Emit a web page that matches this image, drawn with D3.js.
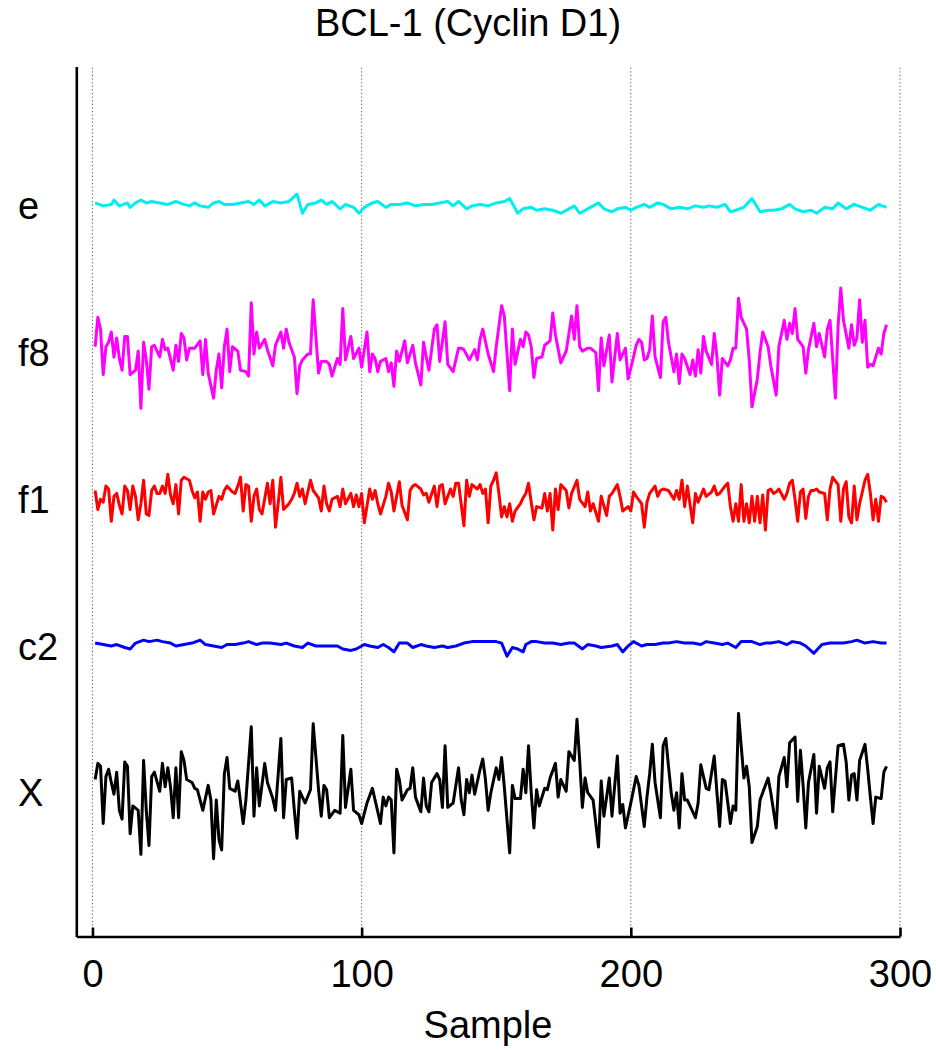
<!DOCTYPE html>
<html>
<head>
<meta charset="utf-8">
<script src="https://cdn.jsdelivr.net/npm/d3@7"></script>
<style>
  body { margin: 0; background: #fff; }
  text { font-family: "Liberation Sans", Arial, sans-serif; }
</style>
</head>
<body>
<svg id="chart" width="936" height="1050"></svg>
<script>
const title = "BCL-1 (Cyclin D1)";
const xLabel = "Sample";
// rows, bottom to top (row value 1..5)
const categories = ["X", "c2", "f1", "f8", "e"];
const xTicks = [0, 100, 200, 300];

// [sample, deviation from the row in hundredths of a row]
const seriesE = [[1,0],[4,-2],[7,-1],[8,2],[10,-2],[13,0],[14,-3],[16,0],[18,2],[20,0],[22,1],[25,0],[28,-1],[31,1],[34,-1],[36,-2],[38,0],[40,-2],[43,-3],[45,0],[47,1],[49,-1],[52,-1],[55,0],[58,1],[60,-1],[62,2],[64,-2],[67,1],[70,0],[73,1],[76,6],[78,-7],[80,-1],[83,0],[85,2],[87,-1],[89,1],[92,-4],[94,-1],[97,-3],[99,-7],[101,-3],[104,0],[106,1],[109,-3],[111,-1],[114,-1],[117,0],[120,-2],[123,-1],[126,-1],[129,0],[132,1],[134,-2],[136,1],[139,-4],[141,-2],[144,-1],[147,-2],[150,0],[153,1],[155,3],[158,-7],[160,-4],[163,-3],[165,-5],[168,-4],[171,-5],[174,-7],[177,-4],[179,-2],[181,-7],[183,-5],[185,-3],[188,0],[190,-4],[193,-6],[195,-4],[198,-3],[200,-5],[202,-3],[205,-1],[207,-3],[210,0],[212,-1],[215,-4],[218,-3],[221,-4],[224,-2],[227,-3],[229,-2],[232,-3],[235,-1],[237,-6],[239,-5],[242,-3],[245,3],[248,-6],[251,-5],[253,-5],[256,-4],[259,-1],[261,-4],[264,-6],[267,-5],[269,-7],[272,-3],[275,-4],[277,0],[280,-4],[283,-1],[286,-3],[289,-5],[292,-1],[295,-3]];

const seriesF8 = [[1,2],[2,22],[3,14],[4,-17],[5,2],[6,5],[7,12],[8,-5],[9,8],[10,-6],[11,-14],[12,9],[13,9],[14,-17],[16,-14],[17,-1],[18,-40],[19,5],[20,-7],[21,-27],[22,2],[23,3],[25,-5],[26,7],[27,0],[28,1],[30,-14],[31,3],[32,-8],[33,11],[34,8],[35,-7],[36,1],[38,1],[40,6],[41,-17],[42,7],[43,-16],[45,-33],[46,-14],[47,-3],[48,-26],[49,2],[50,14],[51,-15],[52,2],[54,-1],[55,-14],[57,-15],[58,-18],[59,32],[60,-3],[61,12],[62,1],[64,7],[65,0],[67,-11],[68,3],[70,12],[71,1],[72,14],[73,5],[75,-5],[76,-30],[77,-11],[78,-7],[80,-3],[81,-3],[82,34],[84,-16],[85,-8],[87,-8],[88,-10],[89,-18],[91,-6],[92,-10],[93,28],[94,-7],[96,9],[97,-6],[99,1],[100,-12],
  [102,12],[103,-15],[104,-3],[105,-6],[106,-15],[107,-8],[109,-6],[110,-15],[111,-9],[112,-25],[113,-1],[114,-8],[116,6],[117,-9],[119,3],[120,-9],[122,-24],[123,5],[124,-5],[125,-14],[127,14],[128,17],[129,-8],[131,19],[132,-10],[134,-15],[136,1],[137,1],[138,0],[140,-7],[142,0],[143,-7],[144,7],[145,14],[147,-3],[149,-15],[150,2],[152,30],[153,23],[155,-28],[156,14],[157,-10],[159,7],[160,2],[161,12],[162,10],[163,2],[164,-19],[165,-6],[167,-5],[168,3],[170,6],[171,25],[172,10],[174,-9],[175,-5],[176,-1],[178,23],[179,7],[180,30],[181,2],[182,-1],[184,1],[185,1],[187,-2],[188,-28],[189,8],[190,-11],[192,10],[193,-22],[195,11],[196,-7],[198,1],[199,-20],[201,-5],[202,3],
  [203,7],[204,5],[205,-7],[206,-6],[207,0],[208,23],[209,-5],[211,-19],[212,19],[213,22],[214,5],[216,-15],[217,-3],[218,-23],[219,-3],[220,-6],[222,-17],[223,-7],[224,-18],[225,0],[226,-16],[227,9],[228,-1],[230,-10],[231,11],[232,-5],[233,-31],[234,-6],[236,-11],[237,-7],[238,1],[239,1],[240,35],[241,22],[243,14],[244,-7],[245,-39],[247,-20],[248,-2],[249,12],[251,2],[252,-11],[254,-31],[255,2],[257,20],[258,7],[259,18],[260,11],[261,28],[262,7],[264,2],[265,-16],[266,0],[268,18],[269,2],[270,11],[272,-5],[273,14],[274,20],[276,-33],[277,16],[278,42],[279,20],[281,1],[282,17],[283,3],[284,8],[285,34],[286,5],[287,20],[288,-12],[289,-10],[290,-11],[292,1],[293,-3],[294,11],[295,17]];

const seriesF1 = [[1,4],[2,-9],[3,-2],[4,-4],[5,7],[6,5],[7,-17],[8,0],[9,2],[10,-6],[11,-12],[12,7],[13,4],[14,-9],[15,7],[16,0],[17,-16],[18,-5],[19,11],[20,-12],[21,-13],[22,4],[23,7],[24,2],[25,2],[26,7],[27,2],[28,15],[29,1],[30,-5],[31,8],[32,-12],[33,11],[34,13],[36,11],[37,4],[38,-1],[39,3],[40,-17],[41,3],[42,-2],[43,3],[44,4],[45,-12],[47,0],[48,-2],[49,4],[50,7],[52,3],[53,2],[54,7],[55,13],[56,-10],[57,8],[58,7],[59,-17],[60,0],[61,5],[62,-9],[63,-12],[65,9],[66,-5],[67,11],[68,-21],[69,-5],[70,13],[71,-9],[73,-5],[74,-2],[75,2],[76,9],[77,0],[78,5],[79,-5],[81,11],[82,4],[84,-1],[85,-10],[86,7],[87,-5],[88,-10],[89,-2],[91,0],[92,-7],[93,5],[94,-5],[96,2],[97,-7],[98,1],[99,-7],[100,2],[101,-18],[103,5],[104,-2],[105,4],[106,-5],[107,-12],[109,0],[110,9],[111,3],[112,-10],[114,10],[115,-6],[117,-16],[118,4],[119,7],[120,8],[122,5],[123,1],[124,2],[125,-4],[127,7],[128,-7],[129,7],[130,8],[131,-5],[133,5],[134,0],[135,9],[136,9],[138,-20],[139,11],[140,0],[141,8],[143,5],[144,8],[145,2],[146,5],[147,-18],[148,7],[149,11],[150,16],
  [151,2],[152,-14],[153,-7],[154,-14],[155,-5],[156,-17],[157,-10],[159,-5],[160,-1],[161,2],[162,9],[163,-4],[164,-16],[165,-7],[167,-8],[168,2],[169,-10],[170,2],[171,-23],[172,5],[173,-9],[174,8],[176,4],[177,-8],[178,2],[180,11],[181,-2],[183,-7],[184,3],[185,-10],[186,-5],[188,-17],[189,0],[191,-13],[192,0],[193,2],[195,8],[196,0],[197,-10],[199,-7],[200,-10],[201,3],[202,0],[204,-5],[205,-21],[206,-4],[207,2],[209,7],[210,0],[211,4],[212,5],[214,4],[215,1],[216,-2],[217,4],[218,-2],[219,11],[220,-7],[221,7],[223,-18],[224,2],[225,-4],[227,5],[228,0],[230,3],[231,7],[232,1],[233,2],[235,7],[236,9],[237,-7],[238,-17],[239,-5],[240,-17],[241,8],[242,-17],[243,-5],[244,-18],[245,0],[246,-17],[247,0],[248,-18],[249,1],[250,-23],[251,4],[252,5],[253,2],[254,3],[255,5],[257,-2],[258,2],[259,9],[260,11],[261,-2],[262,-17],[263,3],[264,5],[265,-15],[266,0],[267,4],[268,4],[269,5],[270,3],[272,2],[273,-16],[274,5],[275,13],[277,8],[278,-17],[279,5],[280,10],[281,-14],[282,-18],[283,7],[284,-16],[285,-5],[287,11],[288,15],[289,2],[290,-16],[291,-2],[292,-17],[293,0],[294,-1],[295,-4]];

const seriesC2 = [[1,0],[4,-1],[7,-2],[9,-1],[12,-3],[14,-4],[16,0],[19,2],[21,1],[24,2],[26,1],[29,0],[31,-2],[34,-1],[37,0],[40,2],[42,-1],[45,-2],[48,-3],[50,-1],[53,-1],[56,0],[58,1],[61,-1],[63,0],[66,0],[70,-1],[72,0],[75,-2],[78,-3],[80,0],[83,-2],[86,-2],[88,-2],[91,-2],[93,-4],[96,-5],[98,-4],[101,-1],[103,-2],[106,-3],[108,-1],[110,-3],[112,-6],[114,0],[117,0],[119,-3],[122,-1],[124,-2],[127,-3],[130,-2],[132,-3],[135,-2],[138,0],[141,1],[144,1],[147,1],[150,1],[152,0],[154,-9],[156,-3],[158,-4],[160,-6],[161,-1],[163,1],[165,1],[168,0],[171,0],[174,-1],[177,0],[179,0],[182,-4],[184,-1],[187,-2],[189,-3],[193,-2],[195,-1],[197,-6],[199,-2],[201,1],[204,-2],[206,-1],[209,-1],[212,0],[214,0],[217,1],[220,0],[223,0],[226,-1],[228,1],[231,0],[234,-1],[236,0],[239,-3],[241,1],[243,1],[245,1],[248,-1],[250,0],[252,0],[255,1],[258,-1],[260,1],[263,0],[265,-2],[268,-7],[271,-1],[274,0],[276,0],[279,0],[282,1],[284,2],[287,0],[290,1],[293,0],[295,0]];

const seriesX = [[1,7],[2,18],[3,16],[4,-23],[5,9],[6,14],[7,5],[8,-3],[9,12],[10,-14],[11,-20],[12,19],[13,16],[14,-30],[15,-11],[17,-14],[18,-44],[19,20],[20,-14],[21,-38],[22,9],[23,12],[25,-1],[26,18],[27,2],[28,15],[29,2],[30,-19],[31,15],[32,-19],[33,26],[34,20],[35,7],[37,5],[38,1],[39,0],[41,-14],[43,3],[44,-7],[45,-47],[46,-7],[47,-34],[48,-41],[49,11],[50,22],[51,1],[53,-1],[54,6],[56,-23],[57,-7],[59,43],[60,-18],[61,15],[62,-11],[64,18],[65,5],[67,-6],[68,-14],[70,35],[71,-19],[72,7],[74,8],[75,-14],[76,-33],[77,-1],[79,-9],[81,0],[82,45],[84,0],[85,-18],[86,3],[87,0],[88,-19],[90,-14],[92,-16],[93,37],[94,-12],[96,14],[97,-14],[99,-17],[100,-23],
  [102,-9],[104,1],[105,-7],[107,-23],[108,-5],[109,-11],[110,-5],[111,-7],[112,-43],[113,14],[114,7],[115,-7],[117,0],[118,1],[119,15],[120,-5],[122,-15],[123,8],[124,-11],[125,-15],[126,5],[128,11],[129,7],[130,-12],[131,30],[132,-12],[134,-9],[136,15],[137,-7],[138,-17],[139,7],[140,-2],[141,10],[142,-3],[144,14],[145,21],[146,7],[147,-14],[148,-2],[150,15],[151,7],[152,22],[153,2],[155,-43],[156,3],[157,-6],[159,-6],[160,14],[161,-2],[162,30],[163,-2],[164,-26],[165,0],[166,-11],[168,1],[169,0],[170,8],[172,18],[173,-5],[174,7],[176,-1],[177,26],[179,20],[180,48],[181,20],[182,-12],[183,8],[184,-2],[186,-7],[188,-39],[189,6],[190,-18],[192,8],[193,-18],[195,23],[196,-16],[197,-10],[198,-26],[200,-9],[202,9],
  [203,3],[205,-25],[206,-5],[207,11],[208,31],[209,5],[211,-19],[212,30],[213,35],[214,16],[215,-2],[216,-14],[217,-2],[218,-26],[219,11],[220,-7],[221,-7],[224,-19],[225,-9],[226,17],[228,1],[229,0],[231,23],[232,-2],[233,-25],[234,7],[235,6],[237,-23],[238,-11],[239,-14],[240,52],[241,30],[242,8],[243,16],[244,2],[245,-36],[247,-25],[248,-7],[251,8],[252,-2],[254,-26],[255,9],[257,22],[258,2],[259,32],[261,36],[262,-8],[263,27],[264,3],[265,-26],[266,5],[268,24],[269,-16],[270,16],[272,1],[273,15],[274,19],[275,-15],[277,30],[279,31],[280,19],[281,-7],[282,10],[283,11],[284,-7],[285,20],[287,31],[288,14],[289,-5],[290,-23],[291,-5],[293,-6],[294,12],[295,16]];

const traces = [
  { row: "e",  data: seriesE,  color: "#00eeee" },
  { row: "f8", data: seriesF8, color: "#ff00ff" },
  { row: "f1", data: seriesF1, color: "#ff0000" },
  { row: "c2", data: seriesC2, color: "#0000ff" },
  { row: "X",  data: seriesX,  color: "#000000" }
];

const svg = d3.select("#chart");

const x = d3.scaleLinear().domain([-6, 300]).range([76.3, 900]);
const y = d3.scaleLinear().domain([0, 5.93]).range([936.5, 66.5]);

// dotted vertical grid
svg.append("g")
  .selectAll("line")
  .data(xTicks)
  .enter()
  .append("line")
  .attr("x1", d => x(d)).attr("x2", d => x(d))
  .attr("y1", y(0)).attr("y2", y(5.93))
  .attr("stroke", "#555")
  .attr("stroke-width", 1)
  .attr("stroke-dasharray", "1.2,2.4");

// traces
const line = d3.line()
  .x(d => x(d[0]))
  .y(d => d[1]);

traces.forEach(t => {
  const base = categories.indexOf(t.row) + 1;
  svg.append("path")
    .datum(t.data.map(p => [p[0], y(base + p[1] / 100)]))
    .attr("fill", "none")
    .attr("stroke", t.color)
    .attr("stroke-width", 3)
    .attr("stroke-linejoin", "round")
    .attr("d", line);
});

// x axis, ticks pointing inward
const xAxis = svg.append("g")
  .attr("transform", `translate(0, ${y(0)})`)
  .call(d3.axisBottom(x).tickValues(xTicks).tickSize(-9).tickSizeOuter(0).tickPadding(24));
xAxis.select(".domain").attr("stroke", "#000").attr("stroke-width", 2.6);
xAxis.selectAll(".tick line").attr("stroke", "#000").attr("stroke-width", 2.6);
xAxis.selectAll(".tick text")
  .attr("fill", "#000")
  .style("font-size", "38px");

// y axis with row names (left aligned as in the source)
const yAxis = svg.append("g")
  .attr("transform", `translate(${x(-6)}, 0)`)
  .call(d3.axisLeft(y).tickValues([1, 2, 3, 4, 5]).tickFormat(d => categories[d - 1]).tickSize(0).tickSizeOuter(0));
yAxis.select(".domain").attr("stroke", "#000").attr("stroke-width", 2.6);
yAxis.selectAll(".tick text")
  .attr("fill", "#000")
  .attr("text-anchor", "start")
  .attr("x", 18 - x(-6))
  .attr("dy", "0.42em")
  .style("font-size", "38px");

svg.append("text")
  .attr("x", 468)
  .attr("y", 36)
  .attr("text-anchor", "middle")
  .style("font-size", "38px")
  .text(title);

svg.append("text")
  .attr("x", 488)
  .attr("y", 1038)
  .attr("text-anchor", "middle")
  .style("font-size", "38px")
  .text(xLabel);
</script>
</body>
</html>
